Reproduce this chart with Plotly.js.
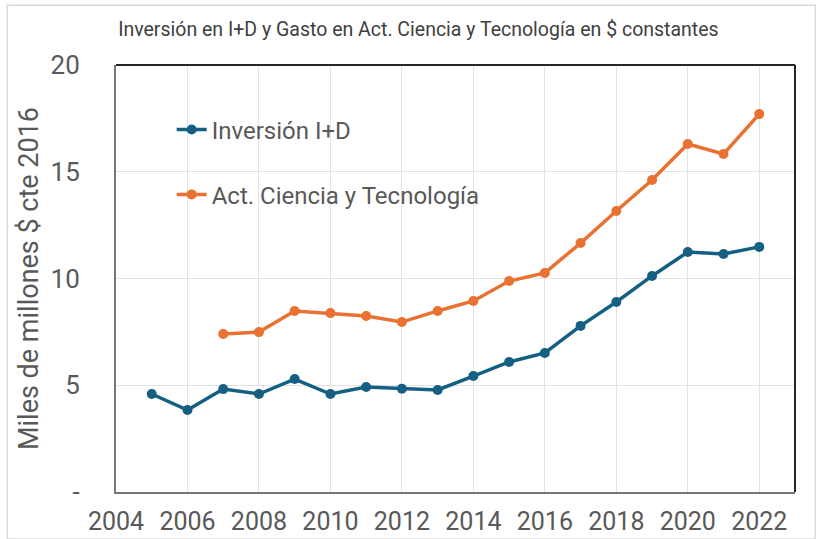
<!DOCTYPE html>
<html><head><meta charset="utf-8">
<script src="https://cdn.plot.ly/plotly-3.0.1.min.js"></script>
<style>html,body{margin:0;padding:0;background:#fff}#chart{width:822px;height:539px}</style>
</head><body><div id="chart"></div>
<script>
const years = [2005,2006,2007,2008,2009,2010,2011,2012,2013,2014,2015,2016,2017,2018,2019,2020,2021,2022];
const inversionID = [4.59,3.84,4.82,4.59,5.29,4.59,4.92,4.84,4.78,5.43,6.09,6.51,7.78,8.90,10.12,11.24,11.15,11.48];
const yearsACT = [2007,2008,2009,2010,2011,2012,2013,2014,2015,2016,2017,2018,2019,2020,2021,2022];
const actCyT = [7.40,7.49,8.48,8.38,8.24,7.96,8.48,8.95,9.88,10.26,11.66,13.16,14.61,16.30,15.83,17.70];
const yTickVals = [0,5,10,15,20];
const yTickText = ['-','5','10','15','20'];
const xTickVals = [2004,2006,2008,2010,2012,2014,2016,2018,2020,2022];

const traces = [
  {x: years, y: inversionID, name: 'Inversión I+D', mode: 'lines+markers', legend: 'legend',
   line: {color: '#156082', width: 3.5}, marker: {color: '#156082', size: 10}},
  {x: yearsACT, y: actCyT, name: 'Act. Ciencia y Tecnología', mode: 'lines+markers', legend: 'legend2',
   line: {color: '#E97132', width: 3.5}, marker: {color: '#E97132', size: 10}}
];
const legFont = {size: 24, color: '#595959'};
const layout = {
  width: 822, height: 539,
  margin: {l: 116, r: 27, t: 65, b: 47},
  paper_bgcolor: '#fff', plot_bgcolor: '#fff',
  font: {family: 'Roboto, Liberation Sans, sans-serif', color: '#595959'},
  title: {text: 'Inversión en I+D y Gasto en Act. Ciencia y Tecnología en $ constantes',
    font: {family: 'Liberation Sans Narrow, Roboto, sans-serif', size: 19.5, color: '#404040'},
    x: 0.509, xanchor: 'center', y: 0.945, yanchor: 'middle'},
  xaxis: {range: [2004, 2023], tickvals: xTickVals, ticks: '', showgrid: true,
    gridcolor: '#e3e3e3', gridwidth: 1, zeroline: false,
    showline: true, linecolor: '#777', linewidth: 2,
    tickfont: {size: 25, color: '#595959'}, ticklabelstandoff: 6},
  yaxis: {range: [0, 20], tickvals: yTickVals, ticktext: yTickText, ticks: '',
    showgrid: true, gridcolor: '#e3e3e3', gridwidth: 1, zeroline: false,
    showline: true, linecolor: '#777', linewidth: 2,
    tickfont: {size: 26, color: '#595959'}, ticklabelstandoff: 29,
    title: {text: 'Miles de millones $ cte 2016', font: {size: 27, color: '#595959'}, standoff: 4}},
  legend: {x: 0.082, y: 0.848, xanchor: 'left', yanchor: 'middle', bgcolor: 'rgba(0,0,0,0)',
    font: legFont, itemwidth: 30},
  legend2: {x: 0.082, y: 0.696, xanchor: 'left', yanchor: 'middle', bgcolor: 'rgba(0,0,0,0)',
    font: legFont, itemwidth: 30},
  showlegend: true,
  shapes: [
    {type: 'line', xref: 'paper', yref: 'paper', x0: 0, x1: 1, y0: 1, y1: 1, line: {color: '#262626', width: 2}},
    {type: 'line', xref: 'paper', yref: 'paper', x0: 1, x1: 1, y0: 0, y1: 1, line: {color: '#262626', width: 2}},
    {type: 'rect', xref: 'paper', yref: 'paper', x0: -0.16, x1: 1.03, y0: -0.11, y1: 1.14,
     line: {color: '#d9d9d9', width: 1.5}, fillcolor: 'rgba(0,0,0,0)', layer: 'below'}
  ]
};
Plotly.newPlot('chart', traces, layout, {displayModeBar: false, staticPlot: true});
</script></body></html>
